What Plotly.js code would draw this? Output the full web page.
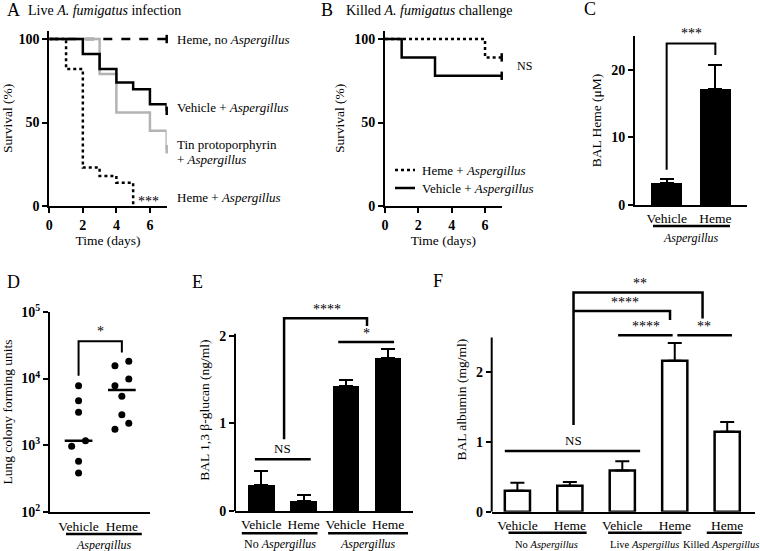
<!DOCTYPE html>
<html><head><meta charset="utf-8">
<script src="https://cdn.plot.ly/plotly-3.0.1.min.js"></script>
<style>html,body{margin:0;padding:0;background:#fff}</style>
</head><body><div id="chart" style="width:760px;height:551px"></div>
<script>
// ---------- DATA ----------
const aDaysHemeNoAsp = [0, 7];
const aSurvHemeNoAsp = [100, 100];
const aDaysVehicleAsp = [0, 2, 3, 4, 5, 6, 7];
const aSurvVehicleAsp = [100, 91, 82, 74, 70, 61, 57];
const aDaysTinAsp = [0, 3, 4, 6, 7];
const aSurvTinAsp = [100, 79, 56, 45, 34];
const aDaysHemeAsp = [0, 1, 2, 3, 4, 5];
const aSurvHemeAsp = [100, 82, 23, 18, 14, 0];
const survTicksX = [0, 2, 4, 6];
const survTicksY = [0, 50, 100];

const bDaysHeme = [0, 6, 7];
const bSurvHeme = [100, 89, 89];
const bDaysVehicle = [0, 1, 3, 7];
const bSurvVehicle = [100, 89, 78, 78];

const cGroups = ['Vehicle', 'Heme'];
const cMeans = [3.2, 17.2];
const cErr = [0.6, 3.5];

const dGroups = ['Vehicle', 'Heme'];
const dVehicle = [7830, 4670, 3125, 1180, 970, 578, 387];
const dVehicleCol = [0, 0, 0, 1, -1, 0, 0];
const dHeme = [18080, 15580, 9850, 7830, 5420, 2885, 2140, 1740];
const dHemeCol = [1, -1, 1, -1, 0, 0, 1, -1];
const dMedians = [1180, 6750];
const dTickVals = [100, 1000, 10000, 100000];
const dTickText = ['10<sup>2</sup>', '10<sup>3</sup>', '10<sup>4</sup>', '10<sup>5</sup>'];

const eGroups = ['Vehicle', 'Heme', 'Vehicle', 'Heme'];
const eMeans = [0.30, 0.114, 1.422, 1.749];
const eErr = [0.152, 0.069, 0.072, 0.099];

const fGroups = ['Vehicle', 'Heme', 'Vehicle', 'Heme', 'Heme'];
const fMeans = [0.30, 0.371, 0.59, 2.157, 1.143];
const fErr = [0.114, 0.053, 0.129, 0.253, 0.138];

// ---------- STYLE ----------
const FONT = '"Liberation Serif", "DejaVu Serif", serif';
const W = 760, H = 551;
const px = v => v / W;
const py = v => 1 - v / H;
const tickFont = {family: FONT, size: 14, color: '#000', weight: 'bold'};
const titleFont = {family: FONT, size: 13.5, color: '#000'};
const catFont = {family: FONT, size: 13.5, color: '#000'};
const idx = a => a.map((_, i) => i);

function xax(d0, d1, range, extra) {
  return Object.assign({domain: [px(d0), px(d1)], range: range, showline: true, linewidth: 2,
    linecolor: '#000', showgrid: false, zeroline: false, tickfont: tickFont, ticks: '',
    fixedrange: true}, extra || {});
}
function yax(top, bottom, range, extra) {
  return Object.assign({domain: [py(bottom), py(top)], range: range, showline: true, linewidth: 2,
    linecolor: '#000', showgrid: false, zeroline: false, tickfont: tickFont, ticks: 'outside',
    ticklen: 5, tickwidth: 2, tickcolor: '#000', fixedrange: true}, extra || {});
}

const traces = [];
function surv(x, y, xa, ya, color, dash, censor) {
  traces.push({type: 'scatter', mode: 'lines', x: x, y: y, xaxis: xa, yaxis: ya,
    line: {shape: 'hv', color: color, width: 2.5, dash: dash}, showlegend: false, hoverinfo: 'skip'});
  if (censor) {
    // censor tick at the last observation
    traces.push({type: 'scatter', mode: 'markers', x: [x[x.length - 1]], y: [y[y.length - 1]],
      xaxis: xa, yaxis: ya, marker: {symbol: 'line-ns', size: 6, line: {color: color, width: 2.5}},
      showlegend: false, hoverinfo: 'skip', cliponaxis: false});
  }
}
surv(aDaysHemeNoAsp, aSurvHemeNoAsp, 'x', 'y', '#000', 'dash', true);
surv(aDaysTinAsp, aSurvTinAsp, 'x', 'y', '#b3b3b3', 'solid', true);
surv(aDaysVehicleAsp, aSurvVehicleAsp, 'x', 'y', '#000', 'solid', true);
surv(aDaysHemeAsp, aSurvHemeAsp, 'x', 'y', '#000', 'dot', false);
surv(bDaysHeme, bSurvHeme, 'x2', 'y2', '#000', 'dot', true);
surv(bDaysVehicle, bSurvVehicle, 'x2', 'y2', '#000', 'solid', true);

function bars(vals, errs, xa, ya, fill, width) {
  traces.push({type: 'bar', x: idx(vals), y: vals, xaxis: xa, yaxis: ya, width: width,
    marker: {color: fill, line: {color: '#000', width: fill === '#fff' ? 2.5 : 0}},
    error_y: {type: 'data', array: errs, arrayminus: errs.map(() => 0), symmetric: false,
      color: '#000', thickness: 2, width: 7},
    showlegend: false, hoverinfo: 'skip'});
}
bars(cMeans, cErr, 'x3', 'y3', '#000', 0.65);
bars(eMeans, eErr, 'x5', 'y5', '#000', 0.63);
bars(fMeans, fErr, 'x6', 'y6', '#fff', 0.48);

const jit = 0.16;
traces.push({type: 'scatter', mode: 'markers', x: dVehicleCol.map(c => 0 + c * jit), y: dVehicle,
  xaxis: 'x4', yaxis: 'y4', marker: {color: '#000', size: 7}, showlegend: false, hoverinfo: 'skip'});
traces.push({type: 'scatter', mode: 'markers', x: dHemeCol.map(c => 1 + c * jit), y: dHeme,
  xaxis: 'x4', yaxis: 'y4', marker: {color: '#000', size: 7}, showlegend: false, hoverinfo: 'skip'});
dMedians.forEach((m, i) => traces.push({type: 'scatter', mode: 'lines', x: [i - 0.32, i + 0.32], y: [m, m],
  xaxis: 'x4', yaxis: 'y4', line: {color: '#000', width: 2.5}, showlegend: false, hoverinfo: 'skip'}));
traces.push({type: 'scatter', mode: 'lines', x: [0, 0, 1, 1], y: [11000, 36000, 36000, 24600],
  xaxis: 'x4', yaxis: 'y4', line: {color: '#000', width: 2}, showlegend: false, hoverinfo: 'skip'});

// ---------- SHAPES ----------
const shapes = [];
function ln(xref, yref, x0, y0, x1, y1, w, dash) {
  shapes.push({type: 'line', xref: xref, yref: yref, x0: x0, y0: y0, x1: x1, y1: y1,
    line: {color: '#000', width: w || 2.5, dash: dash || 'solid'}});
}
function path(xref, yref, pts, w) {
  shapes.push({type: 'path', xref: xref, yref: yref,
    path: 'M' + pts.map(p => p[0] + ',' + p[1]).join(' L'), line: {color: '#000', width: w || 2.5}});
}
path('x3', 'y3', [[0, 5.2], [0, 23.9], [1, 23.9], [1, 22.2]], 2);
ln('x3', 'paper', -0.28, py(226), 1.30, py(226));
ln('x4', 'paper', -0.29, py(534), 1.46, py(534));
ln('paper', 'y5', px(235), 0, px(235), 2.02, 2);
ln('x5', 'y5', -0.15, 0.589, 1.17, 0.589);
path('x5', 'y5', [[0.54, 0.817], [0.54, 2.198], [2.5, 2.198], [2.5, 2.11]]);
ln('x5', 'y5', 1.82, 1.928, 3.14, 1.928);
ln('x5', 'paper', -0.46, py(533.3), 1.33, py(533.3));
ln('x5', 'paper', 1.58, py(533.3), 3.47, py(533.3));
ln('paper', 'y6', px(491.7), 0, px(491.7), 2.49, 2);
ln('x6', 'y6', -0.24, 0.867, 2.34, 0.867);
path('x6', 'y6', [[1.07, 1.238], [1.07, 3.13], [3.53, 3.13], [3.53, 2.76]]);
path('x6', 'y6', [[1.07, 2.867], [2.91, 2.867], [2.91, 2.74]]);
ln('x6', 'y6', 1.92, 2.52, 2.96, 2.52);
ln('x6', 'y6', 3.05, 2.52, 4.09, 2.52);
ln('x6', 'paper', -0.17, py(532.7), 1.32, py(532.7));
ln('x6', 'paper', 1.73, py(532.7), 3.13, py(532.7));
ln('x6', 'paper', 3.61, py(532.7), 4.28, py(532.7));
ln('paper', 'paper', px(395), py(170), px(415), py(170), 2.5, 'dot');
ln('paper', 'paper', px(395), py(188), px(415), py(188), 2.5, 'solid');

// ---------- ANNOTATIONS ----------
const ann = [];
function txt(text, x, y, opts) {
  ann.push(Object.assign({text: text, x: x, y: y, xref: 'paper', yref: 'paper', showarrow: false,
    xanchor: 'center', yanchor: 'middle', font: {family: FONT, size: 13, color: '#000'}}, opts || {}));
}
const f = (s) => ({family: FONT, size: s, color: '#000'});
txt('A', px(13), py(10), {font: f(18)});
txt('Live <i>A. fumigatus</i> infection', px(26), py(11), {xanchor: 'left', font: f(14)});
txt('B', px(327), py(10), {font: f(18)});
txt('Killed <i>A. fumigatus</i> challenge', px(344), py(11), {xanchor: 'left', font: f(14)});
txt('C', px(590), py(9), {font: f(18)});
txt('D', px(14), py(282), {font: f(18)});
txt('E', px(198), py(282), {font: f(18)});
txt('F', px(438), py(281), {font: f(18)});

txt('Heme, no <i>Aspergillus</i>', px(175), py(39), {xanchor: 'left'});
txt('Vehicle + <i>Aspergillus</i>', px(175), py(107), {xanchor: 'left'});
txt('Tin protoporphyrin', px(175), py(144), {xanchor: 'left'});
txt('+ <i>Aspergillus</i>', px(175), py(160), {xanchor: 'left'});
txt('Heme + <i>Aspergillus</i>', px(175), py(197), {xanchor: 'left'});
txt('***', px(148), py(201), {font: f(14)});
txt('NS', px(515), py(66), {xanchor: 'left', font: f(12)});
txt('Heme + <i>Aspergillus</i>', px(420), py(170), {xanchor: 'left'});
txt('Vehicle + <i>Aspergillus</i>', px(420), py(188), {xanchor: 'left'});
txt('***', 0.5, 23.9, {xref: 'x3', yref: 'y3', yanchor: 'bottom', font: f(14)});
txt('<i>Aspergillus</i>', 0.5, py(238), {xref: 'x3', font: f(12)});
txt('*', 0.5, Math.log10(37000), {xref: 'x4', yref: 'y4', yanchor: 'bottom', font: f(14)});
txt('<i>Aspergillus</i>', 0.585, py(545), {xref: 'x4', font: f(12)});
txt('NS', 0.51, 0.60, {xref: 'x5', yref: 'y5', yanchor: 'bottom', font: f(13)});
txt('****', 1.55, 2.19, {xref: 'x5', yref: 'y5', yanchor: 'bottom', font: f(14)});
txt('*', 2.48, 1.92, {xref: 'x5', yref: 'y5', yanchor: 'bottom', font: f(14)});
txt('No <i>Aspergillus</i>', 0.44, py(544), {xref: 'x5', font: f(12)});
txt('<i>Aspergillus</i>', 2.52, py(544), {xref: 'x5', font: f(12)});
txt('NS', 1.07, 0.88, {xref: 'x6', yref: 'y6', yanchor: 'bottom', font: f(13)});
txt('**', 2.34, 3.12, {xref: 'x6', yref: 'y6', yanchor: 'bottom', font: f(14)});
txt('****', 2.05, 2.86, {xref: 'x6', yref: 'y6', yanchor: 'bottom', font: f(14)});
txt('****', 2.45, 2.51, {xref: 'x6', yref: 'y6', yanchor: 'bottom', font: f(14)});
txt('**', 3.56, 2.51, {xref: 'x6', yref: 'y6', yanchor: 'bottom', font: f(14)});
txt('No <i>Aspergillus</i>', 0.56, py(544), {xref: 'x6', font: f(10.5)});
txt('Live <i>Aspergillus</i>', 2.43, py(544), {xref: 'x6', font: f(10.5)});
txt('Killed <i>Aspergillus</i>', 3.88, py(544), {xref: 'x6', font: f(10.5)});

const survTitleX = {text: 'Time (days)', font: titleFont, standoff: 4};
const layout = {
  width: W, height: H, margin: {l: 0, r: 0, t: 0, b: 0},
  paper_bgcolor: '#fff', plot_bgcolor: 'rgba(0,0,0,0)', showlegend: false,
  font: {family: FONT, color: '#000'},
  bargap: 0,
  xaxis: xax(49.3, 166.7, [0, 7], {tickvals: survTicksX, ticks: 'outside', ticklen: 5, tickwidth: 2, tickcolor: '#000', title: survTitleX, anchor: 'y'}),
  yaxis: yax(30.7, 206, [0, 105], {tickvals: survTicksY, title: {text: 'Survival (%)', font: titleFont, standoff: 6}, anchor: 'x'}),
  xaxis2: xax(385, 501.7, [0, 7], {tickvals: survTicksX, ticks: 'outside', ticklen: 5, tickwidth: 2, tickcolor: '#000', title: survTitleX, anchor: 'y2'}),
  yaxis2: yax(30.7, 206, [0, 105], {tickvals: survTicksY, title: {text: 'Survival (%)', font: titleFont, standoff: 6}, anchor: 'x2'}),
  xaxis3: xax(635, 747, [-0.65, 1.65], {tickvals: idx(cGroups), ticktext: cGroups, tickfont: catFont, anchor: 'y3'}),
  yaxis3: yax(36, 205, [0, 25], {tickvals: [0, 10, 20], title: {text: 'BAL Heme (μM)', font: titleFont, standoff: 6}, anchor: 'x3'}),
  xaxis4: xax(50, 150, [-0.66, 1.65], {tickvals: idx(dGroups), ticktext: dGroups, tickfont: catFont, anchor: 'y4'}),
  yaxis4: yax(311.7, 512.3, [2, 5], {type: 'log', tickvals: dTickVals, ticktext: dTickText, title: {text: 'Lung colony forming units', font: titleFont, standoff: 6}, anchor: 'x4'}),
  xaxis5: xax(235, 412.7, [-0.62, 3.58], {tickvals: idx(eGroups), ticktext: eGroups, tickfont: catFont, anchor: 'y5'}),
  yaxis5: yax(309.3, 511, [0, 2.3], {showline: false, tickvals: [0, 1, 2], title: {text: 'BAL 1,3 β-glucan (ng/ml)', font: titleFont, standoff: 6}, anchor: 'x5'}),
  xaxis6: xax(491.7, 755, [-0.49, 4.53], {tickvals: idx(fGroups), ticktext: fGroups, tickfont: catFont, anchor: 'y6'}),
  yaxis6: yax(287.7, 511.7, [0, 3.2], {showline: false, tickvals: [0, 1, 2], title: {text: 'BAL albumin (mg/ml)', font: titleFont, standoff: 6}, anchor: 'x6'}),
  shapes: shapes, annotations: ann
};
Plotly.newPlot('chart', traces, layout, {staticPlot: true, displayModeBar: false});
</script></body></html>
